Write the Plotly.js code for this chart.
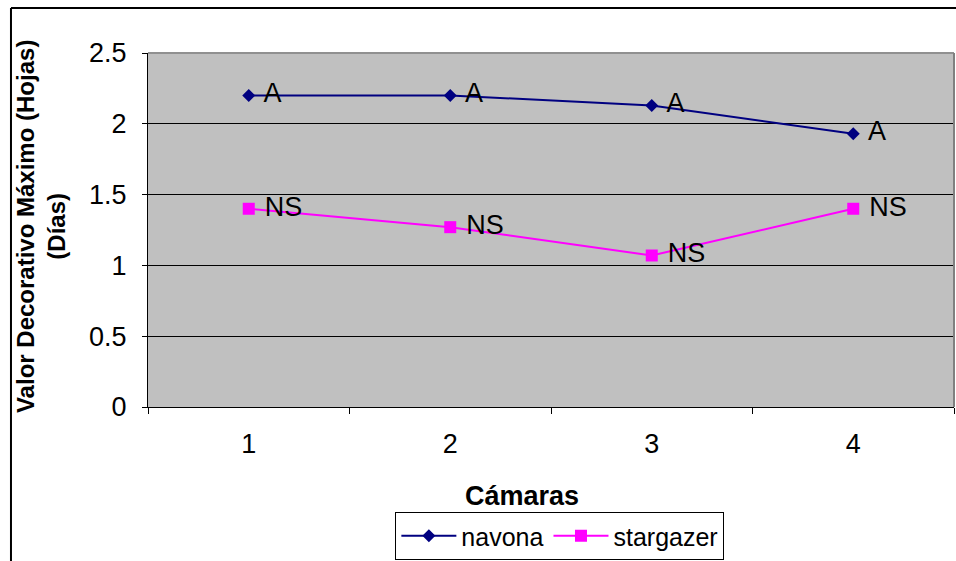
<!DOCTYPE html>
<html>
<head>
<meta charset="utf-8">
<script src="https://cdn.plot.ly/plotly-3.0.1.min.js"></script>
<style>html,body{margin:0;padding:0;background:#fff;}#chart{width:956px;height:561px;}</style>
</head>
<body>
<div id="chart"></div>
<script>
const categories = ["1", "2", "3", "4"];
const navona = [2.2, 2.2, 2.13, 1.93];
const stargazer = [1.4, 1.27, 1.07, 1.4];
const navonaLabels = ["A", "A", "A", "A"];
const stargazerLabels = ["NS", "NS", "NS", "NS"];
const yTicks = [0, 0.5, 1, 1.5, 2, 2.5];

const FONT = "Liberation Sans, Arial, sans-serif";
const pad = s => "\u00a0" + s;

const traces = [
  {
    x: categories, y: navona, name: "navona", type: "scatter", mode: "lines+markers+text",
    text: navonaLabels.map(pad), textposition: "middle right",
    textfont: {family: FONT, size: 27, color: "#000"},
    line: {color: "#000080", width: 2},
    marker: {symbol: "diamond", size: 10, color: "#000080"},
    cliponaxis: false
  },
  {
    x: categories, y: stargazer, name: "stargazer", type: "scatter", mode: "lines+markers+text",
    text: stargazerLabels.map(pad), textposition: "middle right",
    textfont: {family: FONT, size: 27, color: "#000"},
    line: {color: "#FF00FF", width: 2},
    marker: {symbol: "square", size: 12, color: "#FF00FF"},
    cliponaxis: false
  }
];

const layout = {
  width: 956, height: 561,
  margin: {l: 148, r: 2, t: 53, b: 153, pad: 0},
  paper_bgcolor: "#ffffff",
  plot_bgcolor: "#C0C0C0",
  font: {family: FONT, size: 27, color: "#000"},
  showlegend: true,
  xaxis: {
    type: "category", range: [-0.5, 3.5],
    showline: true, linecolor: "#000", linewidth: 1,
    ticks: "outside", ticklen: 6, tickcolor: "#000", tickson: "boundaries",
    showgrid: false, zeroline: false,
    tickfont: {family: FONT, size: 27, color: "#000"},
    ticklabelstandoff: 13,
    automargin: false, fixedrange: true
  },
  yaxis: {
    range: [0, 2.5], tickvals: yTicks,
    showline: true, linecolor: "#000", linewidth: 1,
    ticks: "outside", ticklen: 5, tickcolor: "#000",
    showgrid: true, gridcolor: "#000", gridwidth: 1,
    zeroline: false,
    tickfont: {family: FONT, size: 27, color: "#000"},
    ticklabelstandoff: 10,
    automargin: false, fixedrange: true
  },
  legend: {
    orientation: "h", x: 0.511, xanchor: "center", y: -0.293, yanchor: "top",
    bgcolor: "#fff", bordercolor: "#000", borderwidth: 1, itemwidth: 55,
    font: {family: FONT, size: 25, color: "#000"}
  },
  annotations: [
    {
      text: "<b>Cámaras</b>", xref: "paper", yref: "paper",
      x: 0.464, y: -0.2507, xanchor: "center", yanchor: "middle",
      showarrow: false, font: {family: FONT, size: 27, color: "#000"}
    },
    {
      text: "<b>Valor Decorativo Máximo (Hojas)<br>(Días)</b>", xref: "paper", yref: "paper",
      x: -0.1320, y: 0.51, xanchor: "center", yanchor: "middle", textangle: -90,
      showarrow: false, font: {family: FONT, size: 24, color: "#000"}
    }
  ],
  shapes: [
    {type: "line", xref: "paper", yref: "paper", x0: 0, x1: 1, y0: 1, y1: 1, line: {color: "#909090", width: 2}, layer: "above"},
    {type: "line", xref: "paper", yref: "paper", x0: 1, x1: 1, y0: 0, y1: 1, line: {color: "#808080", width: 2}, layer: "above"},
    {type: "line", xref: "paper", yref: "paper", x0: -0.1700, x1: -0.1700, y0: -0.45, y1: 1.1268, line: {color: "#000", width: 2}},
    {type: "line", xref: "paper", yref: "paper", x0: -0.1700, x1: 1.01, y0: 1.1268, y1: 1.1268, line: {color: "#000", width: 2}}
  ]
};

Plotly.newPlot("chart", traces, layout, {displayModeBar: false, staticPlot: true});
</script>
</body>
</html>
